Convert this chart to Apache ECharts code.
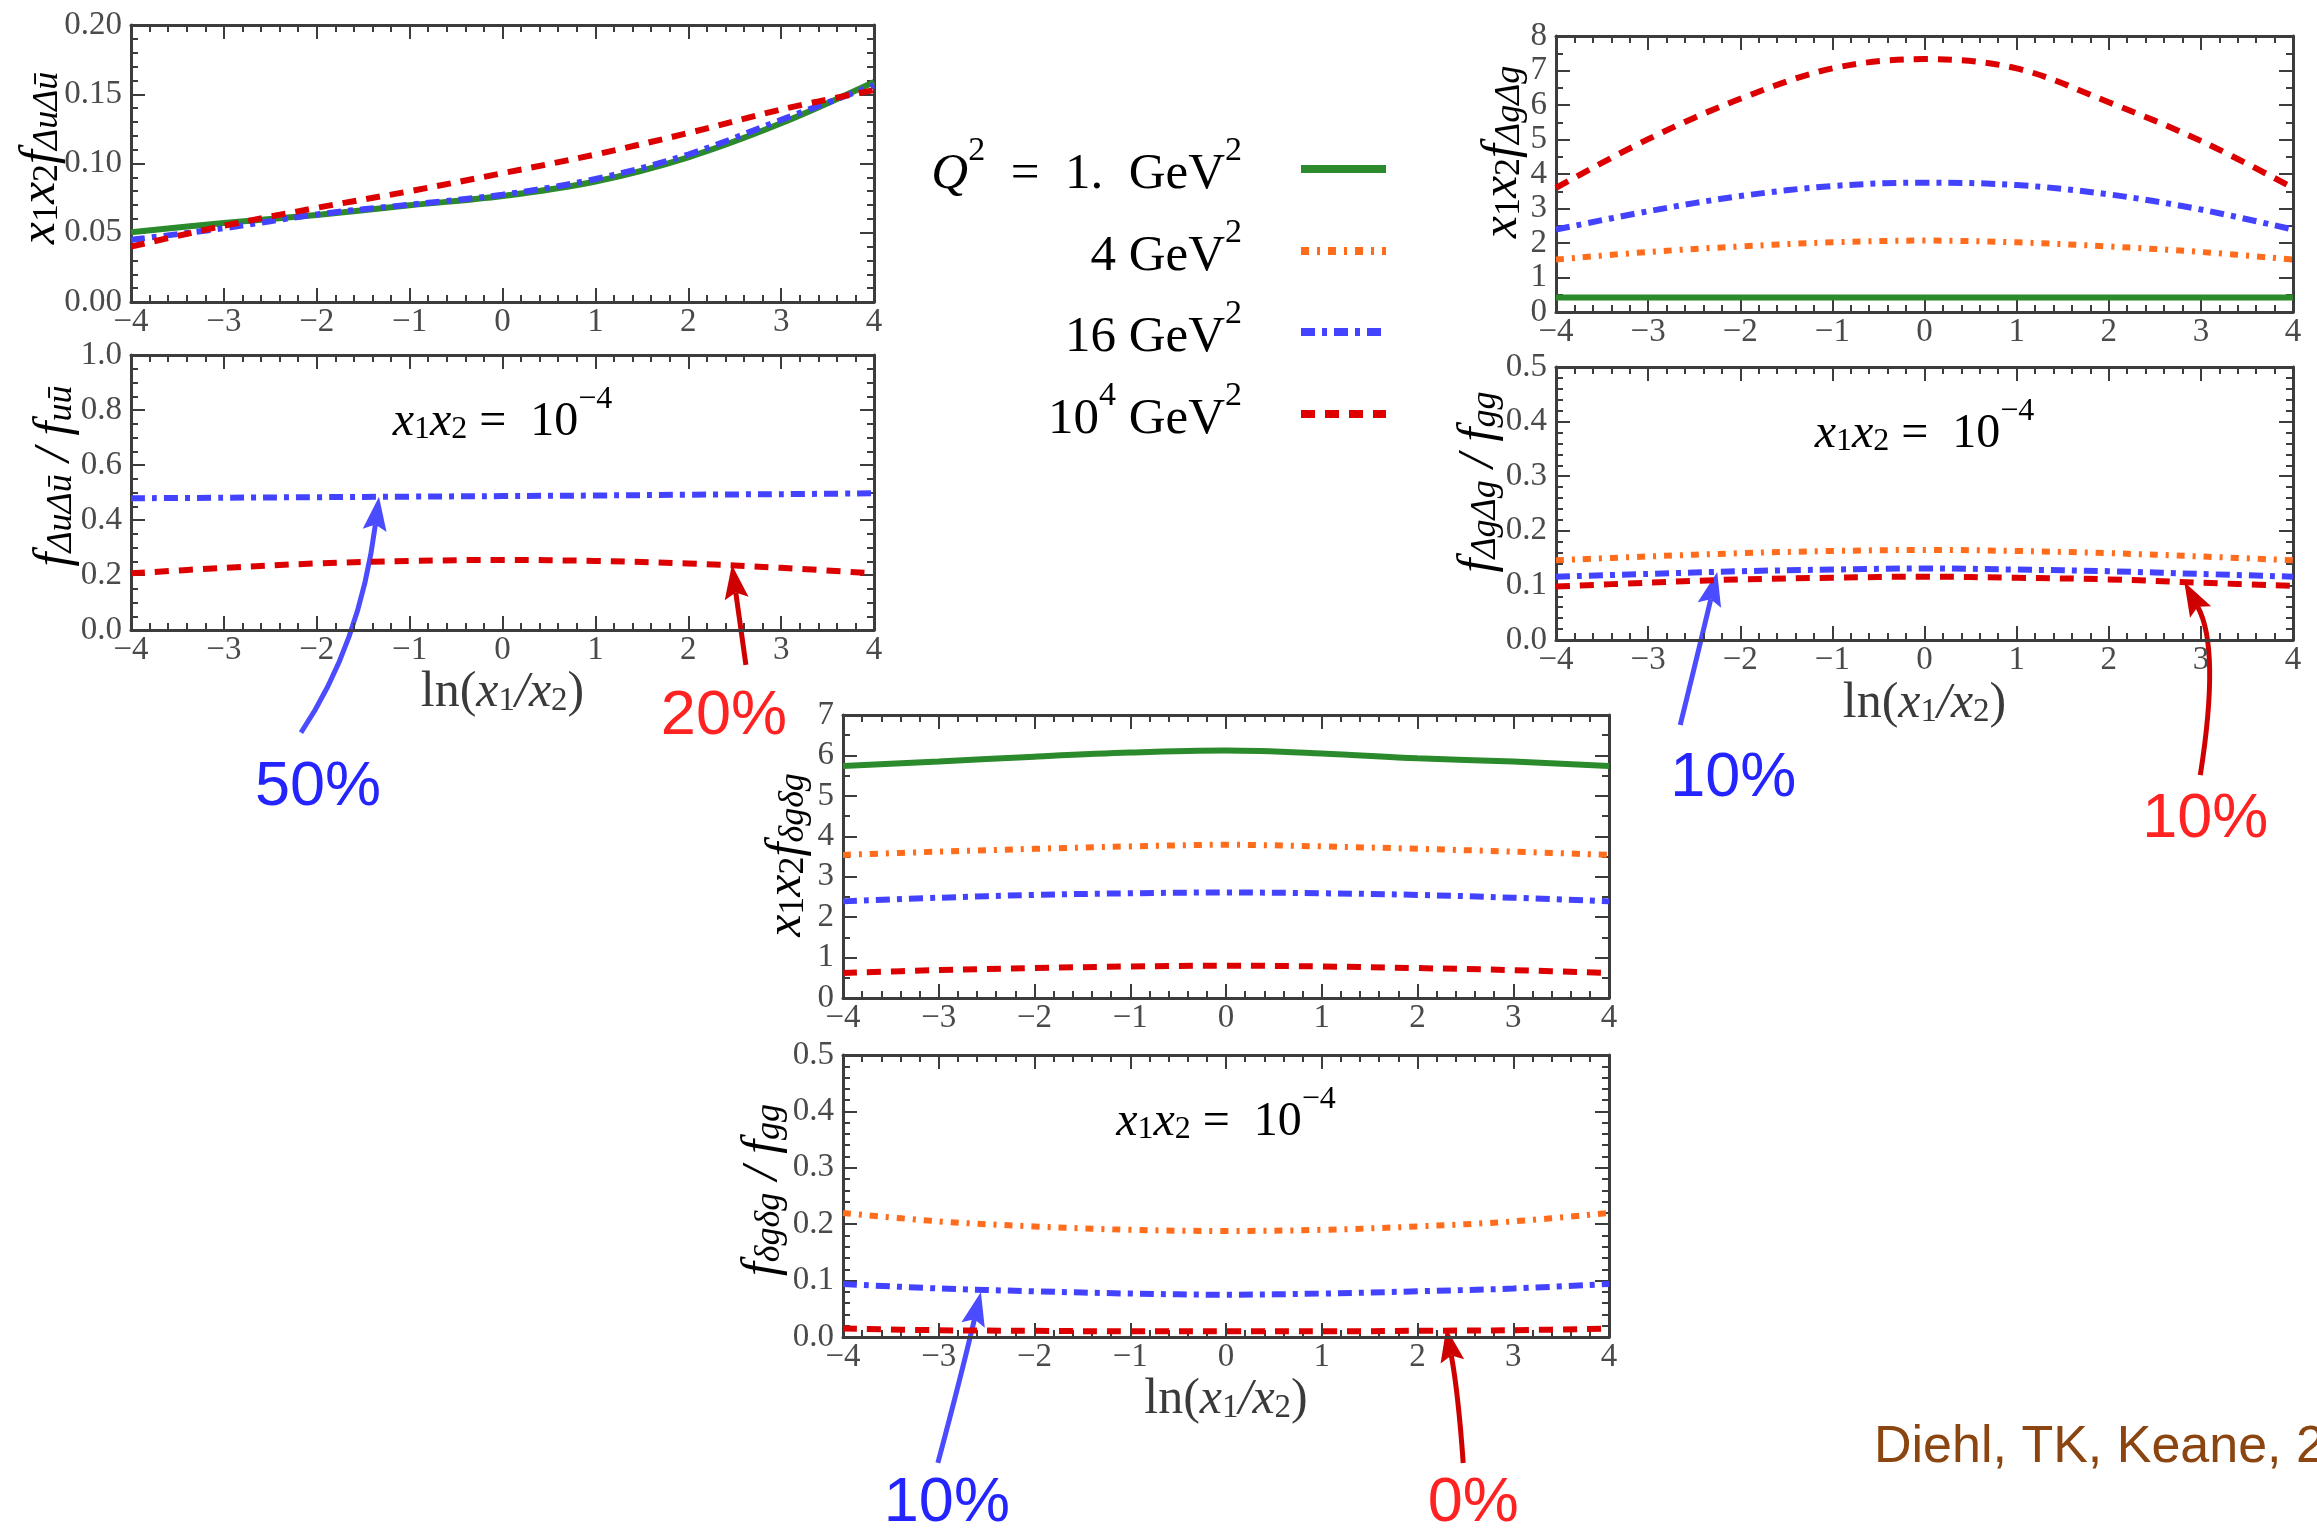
<!DOCTYPE html>
<html><head><meta charset="utf-8">
<script src="https://cdn.jsdelivr.net/npm/echarts@6/dist/echarts.min.js"></script>
<style>html,body{margin:0;padding:0;background:#fff}#c{width:2317px;height:1533px}</style>
</head><body><div id="c"></div>
<script>
// ---------- data ----------
const X = [-4, -3, -2, -1, 0, 1, 2, 3, 4];

// panel A : x1x2 f_{ΔuΔū}
const A_Q1   = [0.0504, 0.057, 0.0628, 0.0698, 0.0765, 0.0870, 0.1045, 0.1290, 0.1588];
const A_Q16  = [0.0449, 0.0533, 0.0632, 0.0703, 0.0775, 0.0888, 0.1065, 0.1315, 0.1564];
const A_Q1E4 = [0.040, 0.055, 0.068, 0.080, 0.093, 0.1065, 0.122, 0.139, 0.153];
// panel B : f_{ΔuΔū}/f_{uū}
const B_Q16  = [0.479, 0.481, 0.483, 0.485, 0.487, 0.489, 0.492, 0.494, 0.497];
const B_Q1E4 = [0.206, 0.226, 0.242, 0.251, 0.255, 0.251, 0.242, 0.226, 0.206];
// panel C : x1x2 f_{ΔgΔg}
const C_Q1   = [0.42, 0.42, 0.42, 0.42, 0.42, 0.42, 0.42, 0.42, 0.42];
const C_Q4   = [1.52, 1.74, 1.90, 2.02, 2.07, 2.02, 1.90, 1.74, 1.52];
const C_Q16  = [2.39, 2.92, 3.36, 3.65, 3.75, 3.68, 3.41, 2.97, 2.39];
const C_Q1E4 = [3.60, 5.01, 6.18, 7.06, 7.33, 7.06, 6.08, 4.96, 3.60];
// panel D : f_{ΔgΔg}/f_{gg}
const D_Q4   = [0.146, 0.153, 0.159, 0.163, 0.165, 0.163, 0.159, 0.153, 0.146];
const D_Q16  = [0.116, 0.121, 0.126, 0.129, 0.131, 0.129, 0.126, 0.121, 0.116];
const D_Q1E4 = [0.098, 0.105, 0.111, 0.114, 0.116, 0.114, 0.111, 0.105, 0.099];
// panel E : x1x2 f_{δgδg}
const E_Q1   = [5.74, 5.85, 5.97, 6.07, 6.12, 6.05, 5.93, 5.85, 5.74];
const E_Q4   = [3.54, 3.62, 3.69, 3.75, 3.79, 3.75, 3.69, 3.62, 3.54];
const E_Q16  = [2.39, 2.48, 2.55, 2.59, 2.61, 2.59, 2.55, 2.48, 2.39];
const E_Q1E4 = [0.62, 0.69, 0.74, 0.78, 0.80, 0.78, 0.74, 0.69, 0.62];
// panel F : f_{δgδg}/f_{gg}
const F_Q4   = [0.220, 0.205, 0.196, 0.190, 0.188, 0.190, 0.196, 0.205, 0.220];
const F_Q16  = [0.094, 0.086, 0.081, 0.077, 0.075, 0.077, 0.081, 0.086, 0.094];
const F_Q1E4 = [0.015, 0.012, 0.011, 0.010, 0.010, 0.010, 0.011, 0.012, 0.015];

// y axis ranges [min, max, interval, decimals, minorSplit]
const Y_A = [0, 0.2, 0.05, 2, 5];
const Y_B = [0, 1.0, 0.2, 1, 4];
const Y_C = [0, 8, 1, 0, 2];
const Y_D = [0, 0.5, 0.1, 1, 5];
const Y_E = [0, 7, 1, 0, 2];
const Y_F = [0, 0.5, 0.1, 1, 5];

// series labels (legend)
const Q_LABELS = [
  [['i','Q'],['p','2'],['r','  =  1.  GeV'],['p','2']],
  [['r','4 GeV'],['p','2']],
  [['r','16 GeV'],['p','2']],
  [['r','10'],['p','4'],['r',' GeV'],['p','2']]
];
const Q_NAMES = ['Q² = 1. GeV²', '4 GeV²', '16 GeV²', '10⁴ GeV²'];

// annotation labels
const ANNOTS = [
  {panel:1, tip:[-1.33, 0.485], text:'50%', kind:'b', tail:[-78,236], ctrl:[-19,148], label:[-61,291]},
  {panel:1, tip:[2.47, 0.237],  text:'20%', kind:'r', tail:[14,100],  ctrl:[7,50],    label:[-8,152]},
  {panel:3, tip:[-2.25, 0.1245],text:'10%', kind:'b', tail:[-37,153], ctrl:[-18,76],  label:[16,207]},
  {panel:3, tip:[2.82, 0.106],  text:'10%', kind:'r', tail:[16,193],  ctrl:[36,66],   label:[21,238]},
  {panel:5, tip:[-2.56, 0.080], text:'10%', kind:'b', tail:[-43,171], ctrl:[-20,85],  label:[-34,212]},
  {panel:5, tip:[2.30, 0.016],  text:'0%',  kind:'r', tail:[17,135],  ctrl:[12,65],   label:[27,176]}
];

// ---------- styling ----------
const COLORS = ['#2b8a2b', '#ff6c1c', '#4343ff', '#dc0000'];
const DASHES = ['solid', [8, 8, 3, 8], [14, 7, 5, 7], [14, 10]];
const AX = '#3c3c3c';
const SERIF = '"Liberation Serif", "Times New Roman", serif';
const TICK_FS = 33;

function rich(size, color, subRatio) {
  const s = Math.round(size * (subRatio || 0.66));
  const base = {fontFamily: SERIF, color: color};
  return {
    i:  Object.assign({}, base, {fontStyle:'italic', fontSize:size, lineHeight:Math.round(size*1.3), verticalAlign:'bottom'}),
    r:  Object.assign({}, base, {fontSize:size, lineHeight:Math.round(size*1.3), verticalAlign:'bottom'}),
    s:  Object.assign({}, base, {fontSize:s, lineHeight:s, verticalAlign:'bottom'}),
    si: Object.assign({}, base, {fontStyle:'italic', fontSize:s, lineHeight:s, verticalAlign:'bottom'}),
    p:  Object.assign({}, base, {fontSize:s, lineHeight:s, verticalAlign:'top'}),
    n:  Object.assign({}, base, {fontSize:TICK_FS, lineHeight:24, color:'#4a4a4a'})
  };
}
function rt(parts) { return parts.map(([k, t]) => '{' + k + '|' + t + '}').join(''); }

const LN_LABEL = [['r','ln('],['i','x'],['s','1'],['i','/x'],['s','2'],['r',')']];
const X12_LABEL = [['i','x'],['s','1'],['i','x'],['s','2'],['r',' =  10'],['p','−4']];

// nameAt: centre of the rotated y-axis title (page pixels)
const panels = [
  {grid:{left:131, top:25, width:743, height:277}, y:Y_A, nameAt:[33, 158],
   yName:[['i','x'],['s','1'],['i','x'],['s','2'],['i','f'],['si','ΔuΔū']],
   curves:[[0, A_Q1], [2, A_Q16], [3, A_Q1E4]]},
  {grid:{left:131, top:355, width:743, height:275}, y:Y_B, nameAt:[47, 476], xName:true, xGap:22, inset:true,
   yName:[['i','f'],['si','ΔuΔū'],['i',' / f'],['si','uū']],
   curves:[[2, B_Q16], [3, B_Q1E4]]},
  {grid:{left:1556, top:36, width:737, height:276}, y:Y_C, nameAt:[1495, 152],
   yName:[['i','x'],['s','1'],['i','x'],['s','2'],['i','f'],['si','ΔgΔg']],
   curves:[[0, C_Q1], [1, C_Q4], [2, C_Q16], [3, C_Q1E4]]},
  {grid:{left:1556, top:367, width:737, height:273}, y:Y_D, nameAt:[1471, 482], xName:true, xGap:24, inset:true,
   yName:[['i','f'],['si','ΔgΔg'],['i',' / f'],['si','gg']],
   curves:[[1, D_Q4], [2, D_Q16], [3, D_Q1E4]]},
  {grid:{left:843, top:715, width:766, height:283}, y:Y_E, nameAt:[779, 855],
   yName:[['i','x'],['s','1'],['i','x'],['s','2'],['i','f'],['si','δgδg']],
   curves:[[0, E_Q1], [1, E_Q4], [2, E_Q16], [3, E_Q1E4]]},
  {grid:{left:843, top:1055, width:766, height:282}, y:Y_F, nameAt:[755, 1190], xName:true, xGap:22, inset:true,
   yName:[['i','f'],['si','δgδg'],['i',' / f'],['si','gg']],
   curves:[[1, F_Q4], [2, F_Q16], [3, F_Q1E4]]}
];

function fmtX(v) { return '{n|' + (v < 0 ? '−' + Math.abs(v) : String(v)) + '}'; }

const grid = [], xAxis = [], yAxis = [], series = [];
const seriesOfPanel = [];
const TICK_RICH = rich(TICK_FS, '#4a4a4a');
panels.forEach((p, gi) => {
  grid.push(Object.assign({containLabel:false}, p.grid));
  const line = {show:true, onZero:false, lineStyle:{color:AX, width:3}};
  const tick = {show:true, inside:true, length:14, lineStyle:{color:AX, width:2}};
  const labelX = {show:true, fontFamily:SERIF, fontSize:TICK_FS, lineHeight:24, color:'#4a4a4a', margin:8,
                  showMinLabel:true, showMaxLabel:true, hideOverlap:false,
                  formatter:fmtX, rich:TICK_RICH};
  const [ymin, ymax, yint, dec, ysplit] = p.y;
  const labelY = {show:true, fontFamily:SERIF, fontSize:TICK_FS, lineHeight:24, color:'#4a4a4a', margin:9,
                  showMinLabel:true, showMaxLabel:true, hideOverlap:false,
                  formatter: v => '{n|' + v.toFixed(dec) + '}', rich:TICK_RICH};
  const xb = {type:'value', gridIndex:gi, position:'bottom', min:-4, max:4, interval:1,
    axisLine:line, axisTick:tick, splitLine:{show:false}, axisLabel:labelX,
    minorTick:{show:true, splitNumber:5, length:7, lineStyle:{color:AX, width:2}}};
  if (p.xName) {
    xb.name = rt(LN_LABEL); xb.nameLocation = 'middle'; xb.nameGap = p.xGap;
    xb.nameTextStyle = {rich: rich(50, '#3a3a3a')};
  }
  const xt = {type:'value', gridIndex:gi, position:'top', min:-4, max:4, interval:1,
    axisLine:line, axisTick:tick, splitLine:{show:false}, axisLabel:{show:false},
    minorTick:{show:true, splitNumber:5, length:7, lineStyle:{color:AX, width:2}}};
  const yl = {type:'value', gridIndex:gi, position:'left', min:ymin, max:ymax, interval:yint,
    axisLine:line, axisTick:tick, splitLine:{show:false}, axisLabel:labelY,
    minorTick:{show:true, splitNumber:ysplit, length:7, lineStyle:{color:AX, width:2}}};
  const yr = {type:'value', gridIndex:gi, position:'right', min:ymin, max:ymax, interval:yint,
    axisLine:line, axisTick:tick, splitLine:{show:false}, axisLabel:{show:false},
    minorTick:{show:true, splitNumber:ysplit, length:7, lineStyle:{color:AX, width:2}}};
  const xi = xAxis.length; xAxis.push(xb, xt);
  const yi = yAxis.length; yAxis.push(yl, yr);
  seriesOfPanel[gi] = series.length;
  p.curves.forEach(([q, vals]) => {
    series.push({type:'line', name:Q_NAMES[q], xAxisIndex:xi, yAxisIndex:yi,
      data: X.map((x, k) => [x, vals[k]]), smooth:0.35, showSymbol:false, symbol:'none',
      lineStyle:{color:COLORS[q], width:6, type:DASHES[q]}, z:2 + q, silent:true, animation:false});
  });
});

const chart = echarts.init(document.getElementById('c'), null, {renderer:'canvas'});
chart.setOption({backgroundColor:'#ffffff', animation:false, grid, xAxis, yAxis, series});

// ---------- annotations (graphic) ----------
const g = [];
// y-axis titles (rotated)
panels.forEach(p => {
  g.push({type:'text', x:p.nameAt[0], y:p.nameAt[1], rotation:Math.PI / 2,
    style:{text:rt(p.yName), rich:rich(50, '#3a3a3a', 0.72), align:'center', verticalAlign:'middle'}});
});
// legend built from series styles
const LEG_Y = [167, 249, 330, 412];
Q_LABELS.forEach((parts, q) => {
  g.push({type:'text', x:1242, y:LEG_Y[q], style:{text:rt(parts), rich:rich(51, '#2a2a2a'),
    align:'right', verticalAlign:'middle'}});
  g.push({type:'line', shape:{x1:1301, y1:LEG_Y[q] + 2, x2:1386, y2:LEG_Y[q] + 2},
    style:{stroke:COLORS[q], lineWidth:8, lineDash: DASHES[q] === 'solid' ? null : DASHES[q]}});
});
// inset labels "x1x2 = 10^-4"
panels.forEach(p => {
  if (!p.inset) return;
  g.push({type:'text', x:p.grid.left + p.grid.width / 2, y:p.grid.top + 60,
    style:{text:rt(X12_LABEL), rich:rich(48, '#3a3a3a'), align:'center', verticalAlign:'middle'}});
});
// arrows + percentages
const KIND = {b:{line:'#4b4bff', text:'#2424ff'}, r:{line:'#cf0000', text:'#ff2222'}};
ANNOTS.forEach(a => {
  const tip = chart.convertToPixel({seriesIndex: seriesOfPanel[a.panel]}, a.tip);
  const tail = [tip[0] + a.tail[0], tip[1] + a.tail[1]];
  const cp = [tip[0] + a.ctrl[0], tip[1] + a.ctrl[1]];
  let dx = tip[0] - cp[0], dy = tip[1] - cp[1];
  const L = Math.hypot(dx, dy); dx /= L; dy /= L;
  const head = 34, hw = 12;
  const base = [tip[0] - dx * head, tip[1] - dy * head];
  const end = [tip[0] - dx * (head - 6), tip[1] - dy * (head - 6)];
  const col = KIND[a.kind];
  g.push({type:'bezierCurve', shape:{x1:tail[0], y1:tail[1], x2:end[0], y2:end[1], cpx1:cp[0], cpy1:cp[1]},
    style:{stroke:col.line, lineWidth:5, fill:null}});
  g.push({type:'polygon', shape:{points:[tip, [base[0] - dy * hw, base[1] + dx * hw],
    [base[0] + dx * 6, base[1] + dy * 6], [base[0] + dy * hw, base[1] - dx * hw]]},
    style:{fill:col.line}});
  g.push({type:'text', x:tip[0] + a.label[0], y:tip[1] + a.label[1],
    style:{text:a.text, fill:col.text, font:'63px "Liberation Sans"', align:'center', verticalAlign:'middle'}});
});
// citation
g.push({type:'text', x:1874, y:1448, style:{text:'Diehl, TK, Keane, 2014', fill:'#8a4510',
  font:'52px "Liberation Sans"', align:'left', verticalAlign:'middle'}});

chart.setOption({graphic: g});
</script>
</body></html>
